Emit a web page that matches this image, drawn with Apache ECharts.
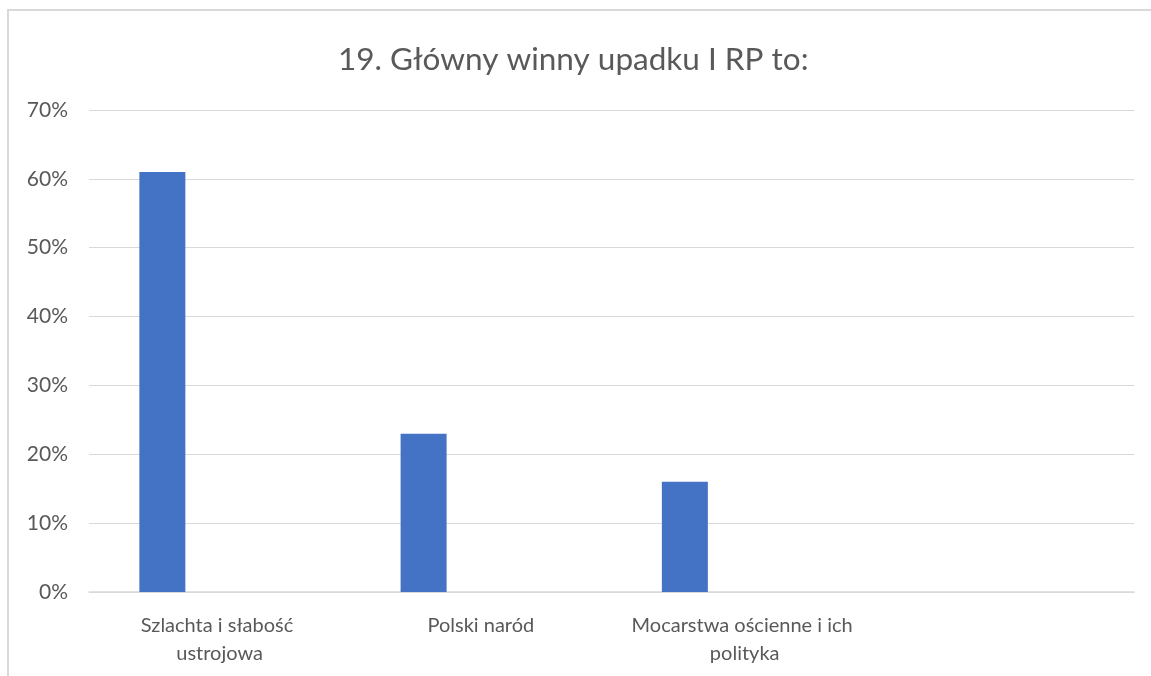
<!DOCTYPE html>
<html>
<head>
<meta charset="utf-8">
<script src="https://cdn.jsdelivr.net/npm/echarts@6/dist/echarts.min.js"></script>
<style>
  html, body { margin: 0; padding: 0; background: #fff; }
  #main { width: 1151px; height: 676px; }
</style>
</head>
<body>
<div id="main"></div>
<script>
// dane z wykresu
const categories = ['Szlachta i słabość ustrojowa', 'Polski naród', 'Mocarstwa ościenne i ich polityka', ''];
const shares = [61, 23, 16, null];
// pusta seria - w oryginale słupki są przesunięte w lewo w kategorii
const emptySeries = [null, null, null, null];
const yTicks = { min: 0, max: 70, step: 10 };

const txt = '#595959';
const chart = echarts.init(document.getElementById('main'));

const option = {
  animation: false,
  textStyle: { fontFamily: 'Lato', color: txt },
  title: {
    text: '19. Główny winny upadku I RP to:',
    left: 333,
    top: 39,
    textStyle: { fontFamily: 'Lato', fontSize: 31.5, fontWeight: 'normal', color: txt }
  },
  graphic: [{
    type: 'polyline',
    shape: { points: [[8, 700], [8, 10], [1160, 10]] },
    style: { stroke: '#d9d9d9', lineWidth: 2, fill: null },
    silent: true
  }],
  grid: { left: 89, right: 17, top: 110, bottom: 84 },
  xAxis: {
    type: 'category',
    data: categories,
    axisLine: { lineStyle: { color: '#d9d9d9', width: 1.5 } },
    axisTick: { show: false },
    axisLabel: {
      color: txt,
      fontSize: 20,
      margin: 20,
      lineHeight: 28,
      width: 235,
      overflow: 'break',
      interval: 0
    }
  },
  yAxis: {
    type: 'value',
    min: yTicks.min,
    max: yTicks.max,
    interval: yTicks.step,
    axisLine: { show: false },
    axisTick: { show: false },
    splitLine: { lineStyle: { color: '#d9d9d9', width: 1 } },
    axisLabel: { color: txt, fontSize: 21, margin: 21, formatter: '{value}%' }
  },
  series: [
    {
      name: 'Udział',
      type: 'bar',
      data: shares,
      barWidth: 46,
      barGap: '149%',
      itemStyle: { color: '#4472c4' }
    },
    {
      name: 'puste',
      type: 'bar',
      data: emptySeries,
      barWidth: 46,
      itemStyle: { color: '#ed7d31' }
    }
  ]
};

chart.setOption(option);
</script>
</body>
</html>
